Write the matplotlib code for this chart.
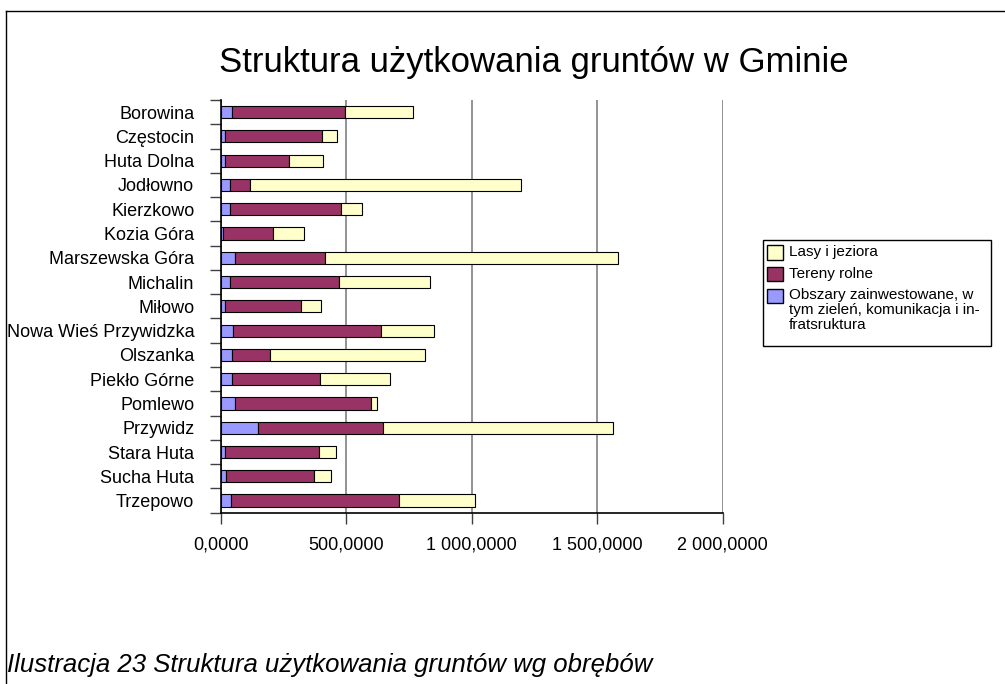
import matplotlib
matplotlib.use("Agg")
import matplotlib.pyplot as plt
from matplotlib.ticker import FuncFormatter, FixedLocator
from matplotlib.patches import Rectangle
from matplotlib.lines import Line2D
import numpy as np

categories = ["Borowina", "Częstocin", "Huta Dolna", "Jodłowno", "Kierzkowo",
              "Kozia Góra", "Marszewska Góra", "Michalin", "Miłowo",
              "Nowa Wieś Przywidzka", "Olszanka", "Piekło Górne", "Pomlewo",
              "Przywidz", "Stara Huta", "Sucha Huta", "Trzepowo"]
obszary = [44, 18, 17, 36, 38, 8, 56, 37, 18,
           50, 46, 46, 58, 149, 18, 22, 42]
tereny = [450, 387, 254, 80, 440, 199, 358, 433, 302,
          587, 150, 348, 541, 496, 372, 348, 667]
lasy = [271, 57, 135, 1079, 86, 124, 1169, 364, 80,
        214, 619, 282, 25, 917, 69, 71, 303]
series_names = ["Obszary zainwestowane, w\ntym zieleń, komunikacja i in-\nfratsruktura",
                "Tereny rolne", "Lasy i jeziora"]
colors = ["#9999FF", "#993366", "#FFFFCC"]
xticks = [0, 500, 1000, 1500, 2000]

plt.rcParams['font.family'] = ['Liberation Sans', 'DejaVu Sans']

W, H = 1005, 684
fig = plt.figure(figsize=(W / 100, H / 100), dpi=100)
ax = fig.add_axes([220.7 / W, 1 - 512.7 / H, 502 / W, (512.7 - 100) / H])

y = np.arange(len(categories))
left = np.zeros(len(categories))
for vals, c in zip([obszary, tereny, lasy], colors):
    ax.barh(y, vals, left=left, height=0.5, color=c, edgecolor="black",
            linewidth=0.8, zorder=3)
    left = left + np.array(vals)

ax.set_xlim(0, 2000)
ax.set_ylim(len(categories) - 0.5, -0.5)
ax.set_xticks(xticks)


def fmt(v, pos):
    s = f"{int(round(v)):,}".replace(",", " ")
    return s + ",0000"


ax.xaxis.set_major_formatter(FuncFormatter(fmt))
ax.xaxis.grid(True, color="#808080", linewidth=1.2, zorder=0)
ax.yaxis.set_major_locator(FixedLocator(np.arange(-0.5, len(categories), 1)))
ax.yaxis.set_major_formatter(FuncFormatter(lambda v, p: ""))
ax.set_yticks(y, minor=True)
ax.set_yticklabels(categories, minor=True, fontsize=13)
ax.tick_params(axis="y", which="minor", length=0, pad=19)
ax.tick_params(axis="y", which="major", length=8.2, width=1, color="#404040")
ax.tick_params(axis="x", which="major", length=8.2, width=1, color="#404040",
               labelsize=13, pad=9)
for s in ["top", "right"]:
    ax.spines[s].set_visible(False)
for s in ["left", "bottom"]:
    ax.spines[s].set_color("black")
    ax.spines[s].set_linewidth(1.2)
    ax.spines[s].set_zorder(4)

fig.text(534 / W, 1 - 72 / H, "Struktura użytkowania gruntów w Gminie",
         fontsize=25, ha="center", va="baseline")

# legend
lx0, ly0, lx1, ly1 = 762.7, 240, 990.7, 346
fig.add_artist(Rectangle((lx0 / W, 1 - ly1 / H), (lx1 - lx0) / W, (ly1 - ly0) / H,
                         transform=fig.transFigure, facecolor="white",
                         edgecolor="black", linewidth=1))
leg_rows = [(2, 252), (1, 274), (0, 296)]
for idx, yc in leg_rows:
    fig.add_artist(Rectangle((767 / W, 1 - (yc + 7.5) / H), 16 / W, 15 / H,
                             transform=fig.transFigure, facecolor=colors[idx],
                             edgecolor="black", linewidth=1))
    if idx == 0:
        fig.text(789 / W, 1 - (yc - 8) / H, series_names[idx], fontsize=11,
                 ha="left", va="top", linespacing=1.1)
    else:
        fig.text(789 / W, 1 - yc / H, series_names[idx], fontsize=11,
                 ha="left", va="center")

# frame lines
fig.add_artist(Line2D([6 / W, 1], [1 - 11 / H, 1 - 11 / H], transform=fig.transFigure,
                      color="black", linewidth=1))
fig.add_artist(Line2D([6 / W, 6 / W], [0, 1 - 11 / H], transform=fig.transFigure,
                      color="black", linewidth=1))

fig.text(7 / W, 1 - 672 / H, "Ilustracja 23 Struktura użytkowania gruntów wg obrębów",
         fontsize=18.5, style="italic", ha="left", va="baseline")

fig.savefig("out.png", dpi=100, facecolor="white")
